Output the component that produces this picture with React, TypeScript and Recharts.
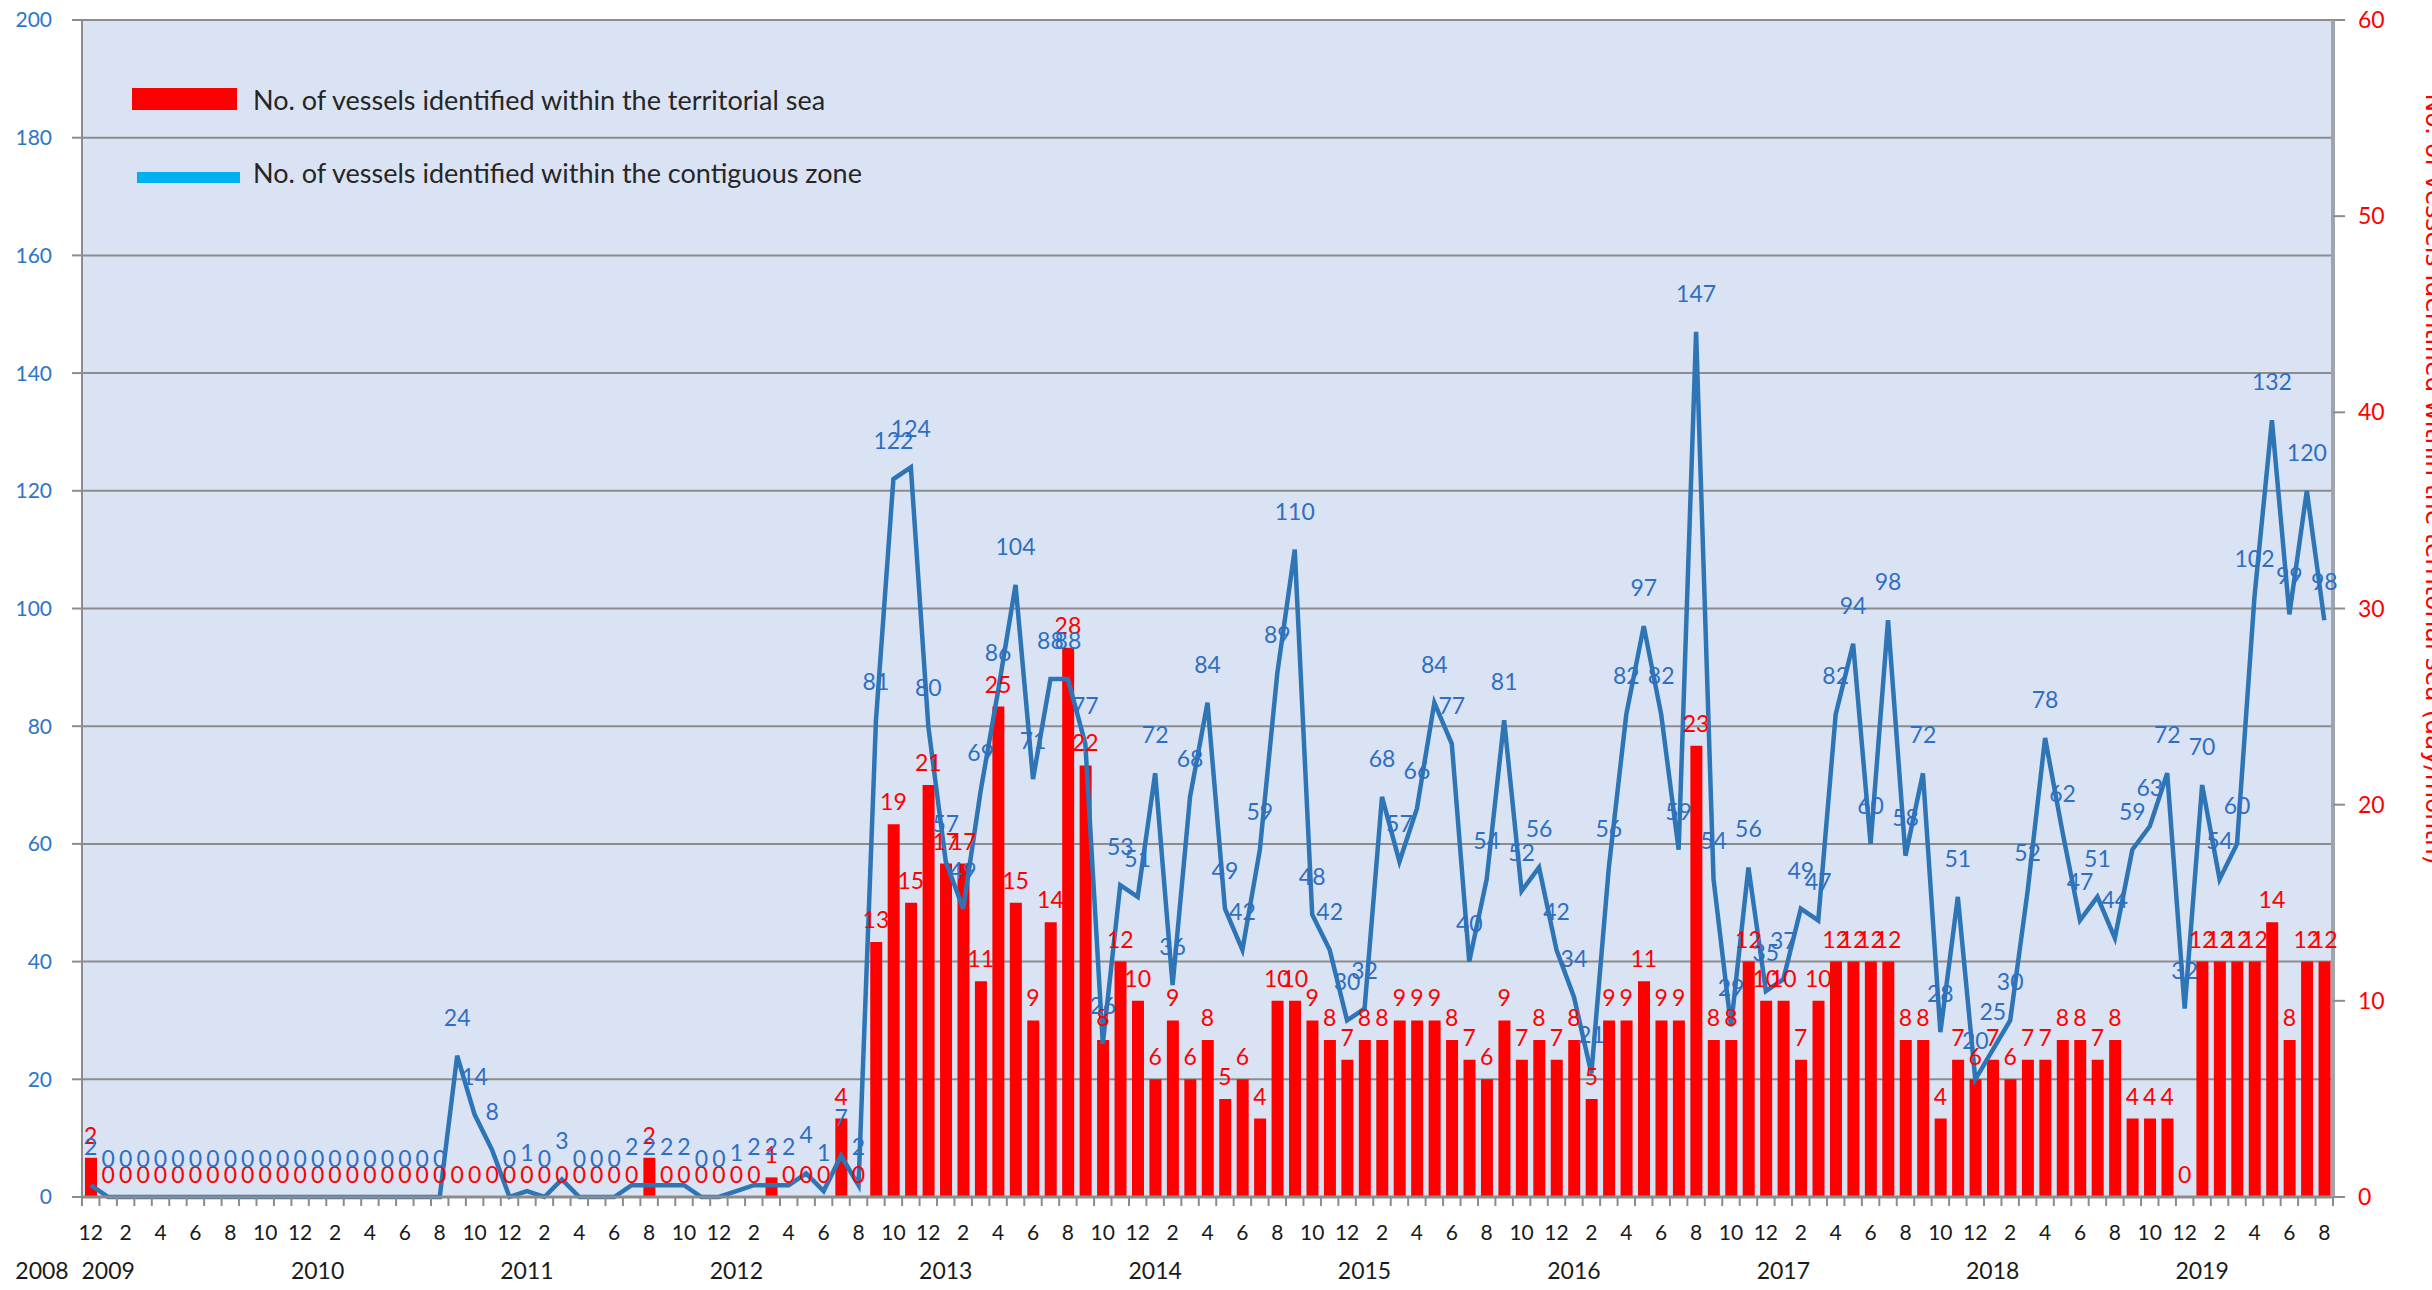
import React from "react";
import {
  ComposedChart,
  Bar,
  Line,
  XAxis,
  YAxis,
  CartesianGrid,
  LabelList,
} from "recharts";

// monthly series, Dec 2008 .. Aug 2019
const FIRST_YEAR = 2008;
const FIRST_MONTH = 12;

// vessels identified within the contiguous zone (left axis)
const contiguousZone: number[] = [
  2, // 2008-12
  0, 0, 0, 0, 0, 0, 0, 0, 0, 0, 0, 0, // 2009
  0, 0, 0, 0, 0, 0, 0, 0, 24, 14, 8, 0, // 2010
  1, 0, 3, 0, 0, 0, 2, 2, 2, 2, 0, 0, // 2011
  1, 2, 2, 2, 4, 1, 7, 2, 81, 122, 124, 80, // 2012
  57, 49, 69, 86, 104, 71, 88, 88, 77, 26, 53, 51, // 2013
  72, 36, 68, 84, 49, 42, 59, 89, 110, 48, 42, 30, // 2014
  32, 68, 57, 66, 84, 77, 40, 54, 81, 52, 56, 42, // 2015
  34, 21, 56, 82, 97, 82, 59, 147, 54, 29, 56, 35, // 2016
  37, 49, 47, 82, 94, 60, 98, 58, 72, 28, 51, 20, // 2017
  25, 30, 52, 78, 62, 47, 51, 44, 59, 63, 72, 32, // 2018
  70, 54, 60, 102, 132, 99, 120, 98, // 2019
];

// vessels identified within the territorial sea (right axis)
const territorialSea: number[] = [
  2, // 2008-12
  0, 0, 0, 0, 0, 0, 0, 0, 0, 0, 0, 0, // 2009
  0, 0, 0, 0, 0, 0, 0, 0, 0, 0, 0, 0, // 2010
  0, 0, 0, 0, 0, 0, 0, 2, 0, 0, 0, 0, // 2011
  0, 0, 1, 0, 0, 0, 4, 0, 13, 19, 15, 21, // 2012
  17, 17, 11, 25, 15, 9, 14, 28, 22, 8, 12, 10, // 2013
  6, 9, 6, 8, 5, 6, 4, 10, 10, 9, 8, 7, // 2014
  8, 8, 9, 9, 9, 8, 7, 6, 9, 7, 8, 7, // 2015
  8, 5, 9, 9, 11, 9, 9, 23, 8, 8, 12, 10, // 2016
  10, 7, 10, 12, 12, 12, 12, 8, 8, 4, 7, 6, // 2017
  7, 6, 7, 7, 8, 8, 7, 8, 4, 4, 4, 0, // 2018
  12, 12, 12, 12, 14, 8, 12, 12, // 2019
];

const leftTicks = [0, 20, 40, 60, 80, 100, 120, 140, 160, 180, 200];
const rightTicks = [0, 10, 20, 30, 40, 50, 60];

const LEGEND_SEA = "No. of vessels identified within the territorial sea";
const LEGEND_ZONE = "No. of vessels identified within the contiguous zone";
const RIGHT_TITLE =
  "No. of vessels identified within the territorial sea (day/month)";

const W = 2432;
const H = 1290;
const LEFT_W = 82;
const RIGHT_W = 99;
const BAND = (W - LEFT_W - RIGHT_W) / contiguousZone.length;

const data = contiguousZone.map((v, i) => {
  const m0 = FIRST_MONTH - 1 + i;
  const year = FIRST_YEAR + Math.floor(m0 / 12);
  const month = (m0 % 12) + 1;
  return {
    key: `${year}-${month}`,
    idx: i,
    year,
    month,
    contiguous: v,
    territorial: territorialSea[i],
  };
});
const byKey = new Map(data.map((d) => [d.key, d]));

const FONT = "Lato, 'Noto Sans', sans-serif";
const BLUE_TEXT = "#2e6fc2";

function MonthTick(props: any) {
  const { x, y, payload } = props;
  const d = byKey.get(payload.value);
  if (!d) return null;
  const last = d.idx === data.length - 1;
  return (
    <g>
      <line
        x1={x - BAND / 2}
        x2={x - BAND / 2}
        y1={y}
        y2={y + 9}
        stroke="#8c8c8c"
        strokeWidth={2}
      />
      {last && (
        <line
          x1={x + BAND / 2}
          x2={x + BAND / 2}
          y1={y}
          y2={y + 9}
          stroke="#8c8c8c"
          strokeWidth={2}
        />
      )}
      {d.month % 2 === 0 && (
        <text
          x={x}
          y={y + 43}
          textAnchor="middle"
          fontFamily={FONT}
          fontSize={21}
          fill="#1a1a1a"
        >
          {d.month}
        </text>
      )}
      {d.month === 1 && (
        <text
          x={x}
          y={y + 82}
          textAnchor="middle"
          fontFamily={FONT}
          fontSize={23}
          fill="#1a1a1a"
        >
          {d.year}
        </text>
      )}
      {d.idx === 0 && (
        <text
          x={x - 22}
          y={y + 82}
          textAnchor="end"
          fontFamily={FONT}
          fontSize={23}
          fill="#1a1a1a"
        >
          {d.year}
        </text>
      )}
    </g>
  );
}

function BlueLabel(props: any) {
  const { x, y, value } = props;
  if (x == null || y == null) return null;
  return (
    <text
      x={x}
      y={y - 30}
      textAnchor="middle"
      fontFamily={FONT}
      fontSize={23}
      fill={BLUE_TEXT}
    >
      {value}
    </text>
  );
}

// red labels hang off an invisible line so zero months still get a "0"
function RedLabel(props: any) {
  const { x, y, value } = props;
  if (x == null || y == null) return null;
  return (
    <text
      x={x}
      y={y - 14}
      textAnchor="middle"
      fontFamily={FONT}
      fontSize={23}
      fill="#ff0000"
    >
      {value}
    </text>
  );
}

function RightTitle(props: any) {
  const vb = props.viewBox;
  if (!vb) return null;
  const cx = vb.x + vb.width - 6;
  const cy = vb.y + vb.height * 0.39;
  return (
    <text
      transform={`translate(${cx}, ${cy}) rotate(90)`}
      textAnchor="middle"
      fontFamily="'DejaVu Sans', sans-serif"
      fontSize={25}
      fill="#ff0000"
    >
      {RIGHT_TITLE}
    </text>
  );
}

export default function App() {
  return (
    <div
      style={{
        position: "absolute",
        left: 0,
        top: 0,
        width: W,
        height: H,
        background: "#ffffff",
        overflow: "hidden",
      }}
    >
      <ComposedChart
        width={W}
        height={H}
        data={data}
        margin={{ top: 20, right: 0, bottom: 0, left: 0 }}
        barSize={12}
      >
        <CartesianGrid
          yAxisId="left"
          vertical={false}
          stroke="#8c8c8c"
          strokeWidth={2}
          fill="#dae3f3"
          fillOpacity={1}
        />
        <XAxis
          dataKey="key"
          interval={0}
          height={93}
          tickSize={0}
          tickMargin={0}
          tickLine={false}
          axisLine={{ stroke: "#8c8c8c", strokeWidth: 3 }}
          tick={<MonthTick />}
        />
        <YAxis
          yAxisId="left"
          domain={[0, 200]}
          ticks={leftTicks}
          width={LEFT_W}
          tickSize={10}
          tickMargin={20}
          axisLine={{ stroke: "#8c8c8c", strokeWidth: 2 }}
          tickLine={{ stroke: "#8c8c8c", strokeWidth: 2 }}
          tick={{ fill: "#2e75c8", fontSize: 21, fontFamily: FONT }}
        />
        <YAxis
          yAxisId="right"
          orientation="right"
          domain={[0, 60]}
          ticks={rightTicks}
          width={RIGHT_W}
          tickSize={12}
          tickMargin={13}
          axisLine={{ stroke: "#9fa4ad", strokeWidth: 4 }}
          tickLine={{ stroke: "#8c8c8c", strokeWidth: 2 }}
          tick={{ fill: "#ff0000", fontSize: 23, fontFamily: FONT }}
          label={<RightTitle />}
        />
        <Bar
          yAxisId="right"
          dataKey="territorial"
          fill="#ff0000"
          isAnimationActive={false}
        />
        <Line
          yAxisId="right"
          type="linear"
          dataKey="territorial"
          stroke="none"
          dot={false}
          activeDot={false}
          legendType="none"
          isAnimationActive={false}
        >
          <LabelList dataKey="territorial" content={<RedLabel />} />
        </Line>
        <Line
          yAxisId="left"
          type="linear"
          dataKey="contiguous"
          stroke="#2e75b6"
          strokeWidth={4.5}
          dot={false}
          isAnimationActive={false}
        >
          <LabelList dataKey="contiguous" content={<BlueLabel />} />
        </Line>
      </ComposedChart>

      {/* legend sits inside the plot, top left */}
      <div
        style={{
          position: "absolute",
          left: 132,
          top: 88,
          width: 105,
          height: 22,
          background: "#ff0000",
        }}
      />
      <div
        style={{
          position: "absolute",
          left: 253,
          top: 82,
          fontFamily: FONT,
          fontSize: 27,
          lineHeight: "36px",
          color: "#262626",
          whiteSpace: "nowrap",
        }}
      >
        {LEGEND_SEA}
      </div>
      <div
        style={{
          position: "absolute",
          left: 137,
          top: 172,
          width: 103,
          height: 11,
          background: "#00b0f0",
        }}
      />
      <div
        style={{
          position: "absolute",
          left: 253,
          top: 155,
          fontFamily: FONT,
          fontSize: 27,
          lineHeight: "36px",
          color: "#262626",
          whiteSpace: "nowrap",
        }}
      >
        {LEGEND_ZONE}
      </div>
    </div>
  );
}
